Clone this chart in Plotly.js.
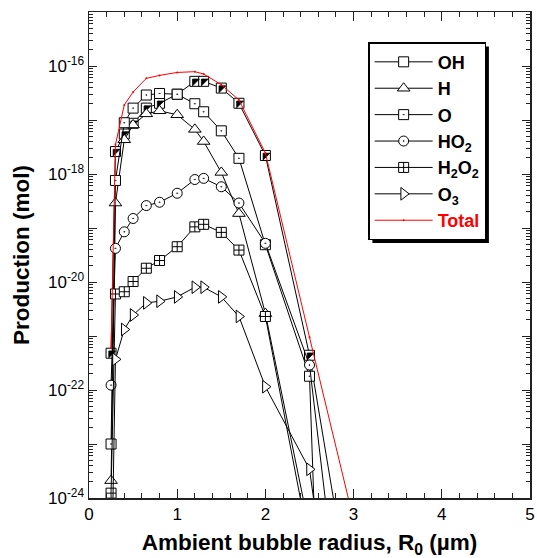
<!DOCTYPE html>
<html>
<head>
<meta charset="utf-8">
<script src="https://cdn.plot.ly/plotly-3.0.1.min.js"></script>
<style>html,body{margin:0;padding:0;background:#fff;}#chart{width:537px;height:558px;}</style>
</head>
<body>
<div id="chart"></div>
<script>
// Ambient bubble radius R0 (µm)
const radius = [0.25, 0.3, 0.4, 0.5, 0.65, 0.8, 1.0, 1.2, 1.3, 1.5, 1.7, 2.0, 2.5, 3.0];
// Production (mol)
const prodOH   = [4.8e-22, 2.6e-18, 5.5e-18, 8.7e-18, 1.66e-17, 2.04e-17, 3.0e-17, 5.2e-17, 5.2e-17, 3.9e-17, 2.04e-17, 2.2e-18, 4.4e-22, 5.7e-27];
const prodH    = [2.1e-24, 2.9e-19, 4.3e-18, 8.1e-18, 1.3e-17, 1.48e-17, 1.25e-17, 6.7e-18, 4.0e-18, 1.07e-18, 1.85e-19, 2.6e-21, 2.6e-25, null];
const prodO    = [1.0e-23, 7.6e-19, 8.9e-18, 1.66e-17, 2.9e-17, 3.1e-17, 3.0e-17, 2.0e-17, 1.42e-17, 6.3e-18, 1.95e-18, 4.9e-20, 1.8e-22, 1e-45];
const prodHO2  = [1.23e-22, 4.2e-20, 8.5e-20, 1.5e-19, 2.6e-19, 3.0e-19, 4.4e-19, 7.9e-19, 8.3e-19, 5.8e-19, 2.9e-19, 5.2e-20, 2.9e-22, 3.3e-29];
const prodH2O2 = [1.23e-24, 6.0e-21, 6.6e-21, 1.02e-20, 1.8e-20, 2.5e-20, 4.5e-20, 1.05e-19, 1.17e-19, 8.3e-20, 3.9e-20, 2.3e-21, 1.3e-25, null];
const prodO3   = [1e-26, 3.7e-22, 1.32e-21, 2.45e-21, 4.1e-21, 4.4e-21, 5.3e-21, 8.0e-21, 8.0e-21, 5.3e-21, 2.3e-21, 1.15e-22, 3.4e-24, 4.5e-30];
const prodTotal= [6.0e-22, 3.5e-18, 1.9e-17, 3.3e-17, 5.9e-17, 6.7e-17, 7.6e-17, 7.85e-17, 7.1e-17, 4.5e-17, 2.35e-17, 2.45e-18, 9.5e-22, 3.9e-25];

const names = ['OH', 'H', 'O', 'HO<sub>2</sub>', 'H<sub>2</sub>O<sub>2</sub>', 'O<sub>3</sub>', '<span style="color:#ff0000">Total</span>'];
const yTickExps = [-24, -23, -22, -21, -20, -19, -18, -17, -16, -15];
const yTickVals = yTickExps.map(e => Math.pow(10, e));
const yTickText = yTickExps.map(e => (e % 2 === 0) ? '10<sup>' + e + '</sup>' : '');

const FONT = 'Liberation Sans, Arial, sans-serif';
const lineBlack = {color: '#000', width: 1};

function series(y, name, symbol, size) {
  return {
    x: radius, y: y, name: name, type: 'scatter', mode: 'lines+markers',
    line: lineBlack,
    marker: {symbol: symbol, size: size, color: '#fff', line: {color: '#000', width: 1}},
    cliponaxis: true
  };
}

const traces = [
  series(prodOH, names[0], 'square', 10),
  {x: radius, y: prodOH, type: 'scatter', mode: 'markers', showlegend: false, hoverinfo: 'skip',
   marker: {symbol: 'triangle-nw', size: 7.5, color: '#000', line: {color: '#000', width: 0.8}}},
  series(prodH, names[1], 'triangle-up', 11),
  series(prodO, names[2], 'square-dot', 10),
  series(prodHO2, names[3], 'circle-dot', 10),
  series(prodH2O2, names[4], 'square-cross', 10),
  series(prodO3, names[5], 'triangle-right', 11),
  {x: radius, y: prodTotal, name: names[6], type: 'scatter', mode: 'lines+markers',
   line: {color: '#ff0000', width: 1}, marker: {color: '#ff0000', size: 2}}
];

const layout = {
  width: 537, height: 558,
  margin: {l: 89, r: 7, t: 12, b: 60},
  paper_bgcolor: '#fff', plot_bgcolor: '#fff',
  font: {family: FONT, color: '#000', size: 17},
  showlegend: true,
  legend: {
    x: 0.633, y: 0.938, xanchor: 'left', yanchor: 'top',
    bgcolor: '#fff', bordercolor: '#000', borderwidth: 1.5,
    font: {family: FONT, size: 18, weight: 'bold', color: '#000'},
    itemwidth: 58, tracegroupgap: 0
  },
  xaxis: {
    range: [0, 5], dtick: 1, tick0: 0,
    showline: true, linecolor: '#222', linewidth: 1.5, mirror: 'allticks',
    ticks: 'inside', ticklen: 9, tickwidth: 1, tickcolor: '#222',
    minor: {dtick: 0.2, ticks: 'inside', ticklen: 5, tickwidth: 1, tickcolor: '#222', showgrid: false},
    showgrid: false, zeroline: false,
    tickfont: {family: FONT, size: 17},
    title: {text: 'Ambient bubble radius, R<sub>0</sub> (µm)', font: {family: FONT, size: 22.5, weight: 'bold'}, standoff: 13}
  },
  yaxis: {
    type: 'log', range: [-24, -15],
    tickmode: 'array', tickvals: yTickVals, ticktext: yTickText,
    showline: true, linecolor: '#222', linewidth: 1.5, mirror: 'allticks',
    ticks: 'inside', ticklen: 8, tickwidth: 1, tickcolor: '#222',
    minor: {dtick: 'D1', ticks: 'inside', ticklen: 4, tickwidth: 1, tickcolor: '#222', showgrid: false},
    showgrid: false, zeroline: false,
    tickfont: {family: FONT, size: 17},
    title: {text: 'Production (mol)', font: {family: FONT, size: 22.5, weight: 'bold'}, standoff: 12}
  }
};

const gd = document.getElementById('chart');
Plotly.newPlot(gd, traces, layout, {displayModeBar: false, staticPlot: true}).then(function () {
  // drop shadow behind the legend box, derived from the rendered legend
  const bg = gd.querySelector('.legend .bg');
  if (!bg) return;
  const r = bg.getBoundingClientRect();
  const c = gd.getBoundingClientRect();
  const s = gd._fullLayout._size;
  const off = 3.5;
  const px = v => (v - c.left - s.l) / s.w;
  const py = v => 1 - (v - c.top - s.t) / s.h;
  return Plotly.relayout(gd, {shapes: [{
    type: 'rect', xref: 'paper', yref: 'paper', layer: 'above',
    x0: px(r.left + off), x1: px(r.right + off),
    y0: py(r.top + off), y1: py(r.bottom + off),
    fillcolor: '#000', line: {width: 0}
  }]});
});
</script>
</body>
</html>
